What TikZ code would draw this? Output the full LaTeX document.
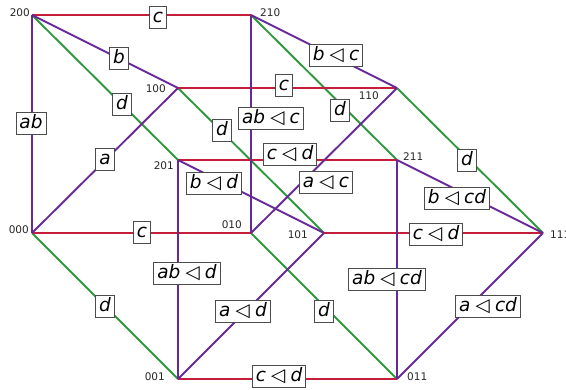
\documentclass[tikz,border=0pt]{standalone}
\usepackage{fontspec}
\setmainfont{DejaVu Sans}
\definecolor{edgeRed}{RGB}{196,30,58}
\definecolor{edgePurple}{RGB}{104,40,152}
\definecolor{edgeGreen}{RGB}{46,152,62}
\newcommand\tri{\hspace{0.28em}{\upshape ◁}\hspace{0.28em}}
\begin{document}
\begin{tikzpicture}[x=1pt,y=-1pt,
  num/.style={font=\fontsize{10.5}{12}\selectfont, text=black!85, inner sep=1pt},
  lab/.style={draw=black!70, line width=0.9pt, fill=white,
    font=\fontsize{18.5}{22}\selectfont\itshape, inner xsep=3.5pt, inner ysep=2.5pt,
    text height=13.5pt, text depth=3.5pt},
  redE/.style={draw=edgeRed, line width=1.9pt},
  purE/.style={draw=edgePurple, line width=1.9pt},
  grnE/.style={draw=edgeGreen, line width=1.9pt}]
\useasboundingbox (0,0) rectangle (566,389);

% lattice points
\coordinate (v200) at (32,15);
\coordinate (v210) at (251,15);
\coordinate (v100) at (178,88);
\coordinate (v110) at (397,88);
\coordinate (v201) at (178,160);
\coordinate (v211) at (397,160);
\coordinate (v000) at (32,233);
\coordinate (v010) at (251,233);
\coordinate (v101) at (324,233);
\coordinate (v111) at (543,233);
\coordinate (v001) at (178,379);
\coordinate (v011) at (397,379);

% green edges
\draw[grnE] (v200) -- (v201);
\draw[grnE] (v210) -- (v211);
\draw[grnE] (v100) -- (v101);
\draw[grnE] (v110) -- (v111);
\draw[grnE] (v000) -- (v001);
\draw[grnE] (v010) -- (v011);
% red edges
\draw[redE] (v200) -- (v210);
\draw[redE] (v100) -- (v110);
\draw[redE] (v201) -- (v211);
\draw[redE] (v000) -- (v010);
\draw[redE] (v101) -- (v111);
\draw[redE] (v001) -- (v011);
% purple edges
\draw[purE] (v200) -- (v000);
\draw[purE] (v200) -- (v100);
\draw[purE] (v210) -- (v110);
\draw[purE] (v100) -- (v000);
\draw[purE] (v110) -- (v010);
\draw[purE] (v210) -- (v010);
\draw[purE] (v201) -- (v101);
\draw[purE] (v211) -- (v111);
\draw[purE] (v201) -- (v001);
\draw[purE] (v101) -- (v001);
\draw[purE] (v211) -- (v011);
\draw[purE] (v111) -- (v011);

% point names
\node[num, anchor=south east] (n200) at (31,18) {200};
\node[num, anchor=south west] (n210) at (259,18) {210};
\node[num, anchor=east] (n100) at (167,89) {100};
\node[num, anchor=east] (n110) at (380,96) {110};
\node[num, anchor=east] (n201) at (175,166) {201};
\node[num, anchor=west] (n211) at (402,157) {211};
\node[num, anchor=east] (n000) at (30,230) {000};
\node[num, anchor=east] (n010) at (243,225) {010};
\node[num, anchor=east] (n101) at (309,235) {101};
\node[num, anchor=west] (n111) at (549,235) {111};
\node[num, anchor=east] (n001) at (166,377) {001};
\node[num, anchor=west] (n011) at (406,377) {011};

% edge labels
\node[lab] (l1) at (158,17) {c};
\node[lab] (l2) at (119,58) {b};
\node[lab] (l3) at (122,104) {d};
\node[lab] (l4) at (31,123) {ab};
\node[lab] (l5) at (336,55) {b\tri c};
\node[lab] (l6) at (284,85) {c};
\node[lab] (l7) at (271,118) {ab\tri c};
\node[lab] (l8) at (340,110) {d};
\node[lab] (l9) at (222,130) {d};
\node[lab] (l10) at (105,159) {a};
\node[lab] (l11) at (467,160) {d};
\node[lab] (l12) at (290,154) {c\tri d};
\node[lab] (l13) at (214,183) {b\tri d};
\node[lab] (l14) at (326,182) {a\tri c};
\node[lab] (l15) at (457,198) {b\tri cd};
\node[lab] (l16) at (142,232) {c};
\node[lab] (l17) at (436,234) {c\tri d};
\node[lab] (l18) at (187,273) {ab\tri d};
\node[lab] (l19) at (387,279) {ab\tri cd};
\node[lab] (l20) at (105,306) {d};
\node[lab] (l21) at (243,311) {a\tri d};
\node[lab] (l22) at (324,311) {d};
\node[lab] (l23) at (488,306) {a\tri cd};
\node[lab] (l24) at (279,376) {c\tri d};
\end{tikzpicture}
\end{document}
